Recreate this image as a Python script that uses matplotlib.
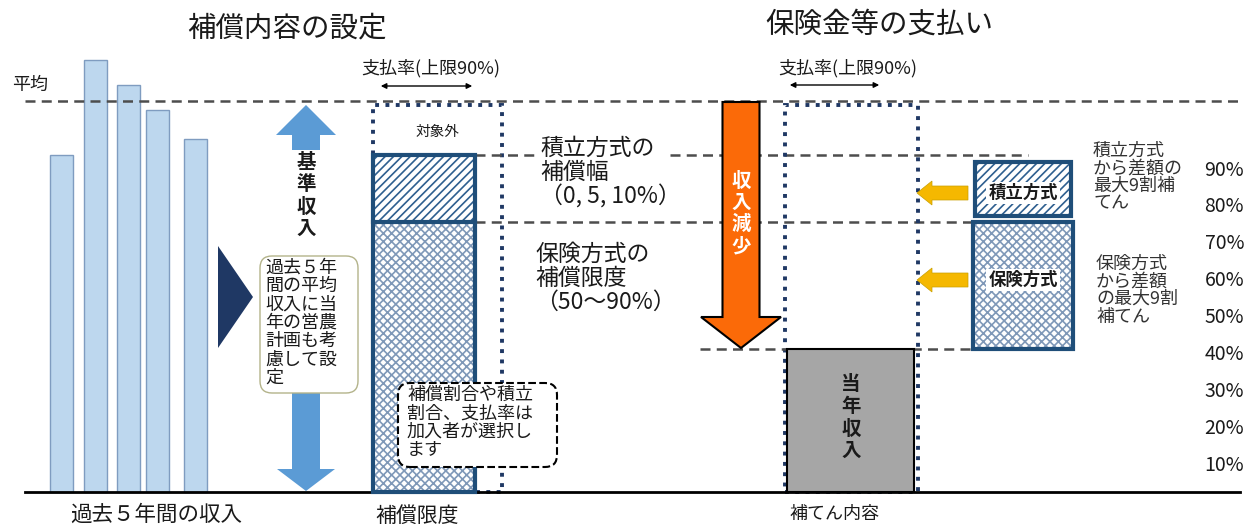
import matplotlib.pyplot as plt
import matplotlib.patches as mpatches

plt.rcParams['font.family'] = ['Noto Sans CJK JP', 'DejaVu Sans']
plt.rcParams['hatch.linewidth'] = 1.2

# values in percent of the 5-year average income
years = ['1', '2', '3', '4', '5']
past_income = [86.2, 110.5, 104.1, 97.7, 90.3]
average = 100
limit_top = 99.0          # payment-rate box (dotted)
reserve_top = 86.2        # 積立方式 upper bound
insurance_top = 69.1      # 保険方式 upper bound
current_income = 36.6     # 当年収入
reserve_box = [70.6, 84.4]
insurance_box = [36.6, 69.0]
pct_labels = ['90%', '80%', '70%', '60%', '50%', '40%', '30%', '20%', '10%']

# layout: x in pixels, y in percent (pixel helper for placing annotations)
PX = 3.91
BASE = 492


def yv(p):
    return (BASE - p) / PX


def varrow(xc, y0, y1, shaft, head, hlen):
    s = 1 if y1 > y0 else -1
    yb = y1 - s * hlen
    pts = [(xc - shaft / 2, y0), (xc + shaft / 2, y0), (xc + shaft / 2, yb),
           (xc + head / 2, yb), (xc, y1), (xc - head / 2, yb), (xc - shaft / 2, yb)]
    return [(x, yv(y)) for x, y in pts]


def harrow(yc, x0, x1, shaft, head, hlen):
    s = 1 if x1 > x0 else -1
    xb = x1 - s * hlen
    pts = [(x0, yc - shaft / 2), (x0, yc + shaft / 2), (xb, yc + shaft / 2),
           (xb, yc + head / 2), (x1, yc), (xb, yc - head / 2), (xb, yc - shaft / 2)]
    return [(x, yv(y)) for x, y in pts]


fig = plt.figure(figsize=(12.47, 5.28), dpi=100)
ax = fig.add_axes([0, 0, 1, 1])
ax.set_xlim(0, 1247)
ax.set_ylim(yv(528), yv(0))
ax.axis('off')

dash = (0, (4, 2.5))
dcol = '#4d4d4d'
navy = '#1f3864'
dblue = '#1f4e79'
txt = '#1a1a1a'

# --- past 5 years -------------------------------------------------------
bar_x = [61.5, 95, 128, 157, 195]
ax.bar(bar_x, past_income, width=23, color='#bdd7ee', edgecolor='#7f9cc0', linewidth=1, zorder=2)

ax.plot([25, 1240], [average, average], color=dcol, ls=dash, lw=1.8, zorder=3)
ax.plot([25, 1240], [0, 0], color='black', lw=2, zorder=5)

# 基準収入 arrows
ax.add_patch(mpatches.Polygon(varrow(306, 150, 105, 28, 60, 30), closed=True, color='#5b9bd5', lw=0))
ax.add_patch(mpatches.Polygon(varrow(306, 393, 491, 28, 58, 22), closed=True, color='#5b9bd5', lw=0))
ax.text(306, yv(196), '基\n準\n収\n入', ha='center', va='center', fontsize=14,
        fontweight='bold', linespacing=1.22, color=txt)

ax.add_patch(mpatches.Polygon([(218, yv(246)), (218, yv(348)), (253, yv(297))], closed=True,
                              color=navy, lw=0))

ax.add_patch(mpatches.FancyBboxPatch((260, yv(393)), 98, yv(256) - yv(393),
                                     boxstyle='round,pad=0,rounding_size=12',
                                     mutation_aspect=1 / PX, fc='white', ec='#b3b38a', lw=1, zorder=4))
ax.text(265, yv(259), '過去５年\n間の平均\n収入に当\n年の営農\n計画も考\n慮して設\n定', ha='left', va='top',
        fontsize=13, linespacing=1.02, color=txt, zorder=6)

ax.text(12, yv(85), '平均', ha='left', va='center', fontsize=13, color=txt)
ax.text(287, yv(28), '補償内容の設定', ha='center', va='center', fontsize=20.5, color=txt)

# --- 補償限度 column ----------------------------------------------------
ax.add_patch(mpatches.Rectangle((373, 0), 129, limit_top, fill=False, ls=':', lw=2.8, ec=navy, zorder=3))
ax.bar(424, reserve_top - insurance_top, bottom=insurance_top, width=102, color='white',
       edgecolor='#2e5f8f', hatch='////', linewidth=0, zorder=4)
ax.bar(424, insurance_top, width=102, color='white', edgecolor='#7f98b8', hatch='xxxx',
       linewidth=0, zorder=4)
ax.add_patch(mpatches.Rectangle((373, 0), 102, reserve_top, fill=False, lw=3, ec=dblue, zorder=5))
ax.plot([373, 475], [insurance_top, insurance_top], color=dblue, lw=3, zorder=5)

ax.text(437, yv(132), '対象外', ha='center', va='center', fontsize=10.5, color=txt)
ax.text(431, yv(68), '支払率(上限90%)', ha='center', va='center', fontsize=13, color=txt)
ax.annotate('', xy=(378, yv(86)), xytext=(475, yv(86)),
            arrowprops=dict(arrowstyle='<|-|>', color='black', lw=1, mutation_scale=8))

ax.plot([475, 535], [reserve_top, reserve_top], color=dcol, ls=dash, lw=1.8, zorder=3)
ax.plot([670, 1028], [reserve_top, reserve_top], color=dcol, ls=dash, lw=1.8, zorder=3)
ax.plot([475, 975], [insurance_top, insurance_top], color=dcol, ls=dash, lw=1.8, zorder=3)

ax.text(540, yv(173), '積立方式の\n補償幅\n（0, 5, 10%）', ha='left', va='center', fontsize=16.5,
        linespacing=1.05, color=txt)
ax.text(535, yv(278), '保険方式の\n補償限度\n（50〜90%）', ha='left', va='center', fontsize=16.5,
        linespacing=1.05, color=txt)

ax.add_patch(mpatches.FancyBboxPatch((398, yv(467)), 159, yv(383) - yv(467),
                                     boxstyle='round,pad=0,rounding_size=12',
                                     mutation_aspect=1 / PX, fc='white', ec='black', ls='--', lw=1.5, zorder=6))
ax.text(407, yv(386), '補償割合や積立\n割合、支払率は\n加入者が選択し\nます', ha='left', va='top',
        fontsize=13, linespacing=1.02, color=txt, zorder=7)

# --- 支払い column -------------------------------------------------------
ax.text(879, yv(25), '保険金等の支払い', ha='center', va='center', fontsize=20.5, color=txt)
ax.text(848, yv(68), '支払率(上限90%)', ha='center', va='center', fontsize=13, color=txt)
ax.annotate('', xy=(787, yv(85)), xytext=(882, yv(85)),
            arrowprops=dict(arrowstyle='<|-|>', color='black', lw=1, mutation_scale=8))

ax.add_patch(mpatches.Polygon(varrow(741, 102, 348, 37, 80, 31), closed=True, fc='#fb6a08',
                              ec='black', lw=1.5, zorder=4))
ax.text(741, yv(214), '収\n入\n減\n少', ha='center', va='center', fontsize=14, fontweight='bold',
        linespacing=1.18, color='white', zorder=5)

ax.bar(850.5, current_income, width=127, color='#a6a6a6', edgecolor='black', linewidth=1.5, zorder=4)
ax.add_patch(mpatches.Rectangle((785, 0), 133, limit_top, fill=False, ls=':', lw=2.8, ec=navy, zorder=3))
ax.text(851, yv(418), '当\n年\n収\n入', ha='center', va='center', fontsize=14, fontweight='bold',
        linespacing=1.22, color=txt, zorder=5)
ax.plot([700, 1035], [current_income, current_income], color=dcol, ls=dash, lw=1.8, zorder=3)

for yc in [193, 280]:
    ax.add_patch(mpatches.Polygon(harrow(yc, 968, 917, 14, 24, 15), closed=True, fc='#f5b800',
                                  ec='#c9a000', lw=0.5, zorder=4))

ax.bar(1023, reserve_box[1] - reserve_box[0], bottom=reserve_box[0], width=96, color='white',
       edgecolor='#2e5f8f', hatch='////', linewidth=0, zorder=4)
ax.add_patch(mpatches.Rectangle((975, reserve_box[0]), 96, reserve_box[1] - reserve_box[0],
                                fill=False, lw=3, ec=dblue, zorder=5))
ax.bar(1023, insurance_box[1] - insurance_box[0], bottom=insurance_box[0], width=100, color='white',
       edgecolor='#7f98b8', hatch='xxxx', linewidth=0, zorder=4)
ax.add_patch(mpatches.Rectangle((973, insurance_box[0]), 100, insurance_box[1] - insurance_box[0],
                                fill=False, lw=3, ec=dblue, zorder=5))
for yc, s in [(193, '積立方式'), (280, '保険方式')]:
    ax.text(1023, yv(yc), s, ha='center', va='center', fontsize=12.5, fontweight='bold', color=txt,
            zorder=6, bbox=dict(fc='white', ec='none', pad=1.5))

ax.text(1093, yv(177), '積立方式\nから差額の\n最大9割補\nてん', ha='left', va='center', fontsize=13,
        linespacing=0.98, color='#333333')
ax.text(1096, yv(290), '保険方式\nから差額\nの最大9割\n補てん', ha='left', va='center', fontsize=13,
        linespacing=0.98, color='#333333')

for i, lab in enumerate(pct_labels):
    ax.text(1244, yv(170 + i * 36.9), lab, ha='right', va='center', fontsize=14, color=txt)

# --- bottom labels -------------------------------------------------------
ax.text(156, yv(515), '過去５年間の収入', ha='center', va='center', fontsize=15.5, color=txt)
ax.text(417, yv(516), '補償限度', ha='center', va='center', fontsize=15, color=txt)
ax.text(834, yv(514), '補てん内容', ha='center', va='center', fontsize=13, color=txt)

fig.savefig('out.png', dpi=100)
